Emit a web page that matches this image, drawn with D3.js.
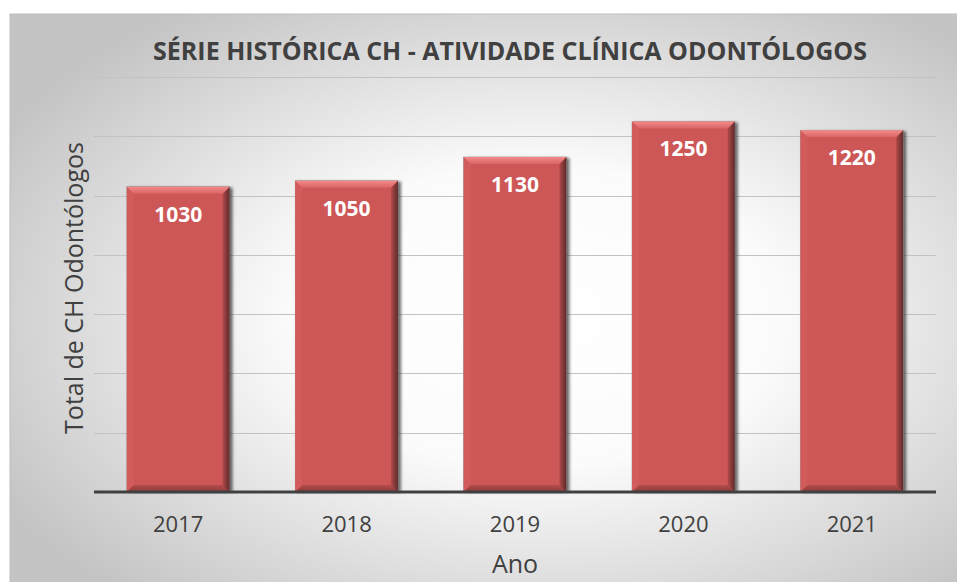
<!DOCTYPE html>
<html>
<head>
<meta charset="utf-8">
<script src="https://cdn.jsdelivr.net/npm/d3@7"></script>
<style>
  body { margin: 0; background: #fff; }
  svg { display: block; font-family: "Open Sans", sans-serif; }
</style>
</head>
<body>
<svg width="957" height="582"></svg>
<script>
// data
const years = ["2017", "2018", "2019", "2020", "2021"];
const totals = [1030, 1050, 1130, 1250, 1220];
const yTicks = [0, 200, 400, 600, 800, 1000, 1200, 1400];

const title = "SÉRIE HISTÓRICA CH - ATIVIDADE CLÍNICA ODONTÓLOGOS";
const xTitle = "Ano";
const yTitle = "Total de CH Odontólogos";

const svg = d3.select("svg");
const W = 957, H = 582;
const plot = { left: 94, right: 936, top: 77, bottom: 492 };

const defs = svg.append("defs");

// chart background: soft radial gradient
const bg = defs.append("radialGradient")
  .attr("id", "bg")
  .attr("cx", "55%").attr("cy", "52%").attr("r", "64%");
bg.append("stop").attr("offset", "0%").attr("stop-color", "#ffffff");
bg.append("stop").attr("offset", "40%").attr("stop-color", "#fbfbfb");
bg.append("stop").attr("offset", "100%").attr("stop-color", "#c4c4c4");

const rightBevel = defs.append("linearGradient").attr("id", "rb")
  .attr("x1", "0").attr("x2", "1").attr("y1", "0").attr("y2", "0");
rightBevel.append("stop").attr("offset", "0%").attr("stop-color", "#b14a4a");
rightBevel.append("stop").attr("offset", "100%").attr("stop-color", "#5e2a2a");

const topBevel = defs.append("linearGradient").attr("id", "tb")
  .attr("x1", "0").attr("x2", "0").attr("y1", "0").attr("y2", "1");
topBevel.append("stop").attr("offset", "0%").attr("stop-color", "#f38a8a");
topBevel.append("stop").attr("offset", "100%").attr("stop-color", "#da6464");

const botBevel = defs.append("linearGradient").attr("id", "bb")
  .attr("x1", "0").attr("x2", "0").attr("y1", "0").attr("y2", "1");
botBevel.append("stop").attr("offset", "0%").attr("stop-color", "#b64c4c");
botBevel.append("stop").attr("offset", "100%").attr("stop-color", "#8a3a3a");

defs.append("filter").attr("id", "shadow")
  .attr("x", "-10%").attr("y", "-10%").attr("width", "130%").attr("height", "130%")
  .append("feGaussianBlur").attr("stdDeviation", 1.6);

svg.append("rect")
  .attr("x", 10).attr("y", 14)
  .attr("width", W).attr("height", H)
  .attr("fill", "url(#bg)")
  .attr("stroke", "#bdbdbd")
  .attr("stroke-width", 1);

// scales
const x = d3.scaleBand()
  .domain(years)
  .range([plot.left, plot.right])
  .paddingInner(0.39)
  .paddingOuter(0.195);

const y = d3.scaleLinear()
  .domain([0, 1400])
  .range([plot.bottom, plot.top]);

// gridlines
svg.append("g")
  .selectAll("line")
  .data(yTicks.filter(d => d > 0))
  .join("line")
  .attr("x1", plot.left).attr("x2", plot.right)
  .attr("y1", d => Math.round(y(d)) + 0.5)
  .attr("y2", d => Math.round(y(d)) + 0.5)
  .attr("stroke", "#c2c2c2")
  .attr("stroke-width", 1.2);

// bars with bevel
const b = 7;
const bars = svg.append("g")
  .selectAll("g")
  .data(years.map((yr, i) => ({ year: yr, value: totals[i] })))
  .join("g");

bars.append("rect")
  .attr("x", d => x(d.year) + 2)
  .attr("y", d => y(d.value) + 1)
  .attr("width", x.bandwidth() + 1)
  .attr("height", d => y(0) - y(d.value) - 1)
  .attr("fill", "#2a2a2a")
  .attr("opacity", 0.7)
  .attr("filter", "url(#shadow)");

bars.append("rect")
  .attr("x", d => x(d.year))
  .attr("y", d => y(d.value))
  .attr("width", x.bandwidth())
  .attr("height", d => y(0) - y(d.value))
  .attr("fill", "#cd5656")
  .attr("stroke", "#9a9a9a")
  .attr("stroke-width", 0.6);

function bevel(d, side) {
  const x0 = x(d.year), x1 = x0 + x.bandwidth();
  const y0 = y(d.value), y1 = y(0);
  const p = {
    top: [[x0, y0], [x1, y0], [x1 - b, y0 + b], [x0 + b, y0 + b]],
    left: [[x0, y0], [x0 + b, y0 + b], [x0 + b, y1 - b], [x0, y1]],
    right: [[x1, y0], [x1, y1], [x1 - b, y1 - b], [x1 - b, y0 + b]],
    bottom: [[x0, y1], [x1, y1], [x1 - b, y1 - b], [x0 + b, y1 - b]]
  }[side];
  return "M" + p.map(q => q.join(",")).join("L") + "Z";
}

bars.append("path").attr("d", d => bevel(d, "left")).attr("fill", "#d25c5c");
bars.append("path").attr("d", d => bevel(d, "bottom")).attr("fill", "url(#bb)");
bars.append("path").attr("d", d => bevel(d, "right")).attr("fill", "url(#rb)");
bars.append("path").attr("d", d => bevel(d, "top")).attr("fill", "url(#tb)");

// value labels
bars.append("text")
  .attr("x", d => x(d.year) + x.bandwidth() / 2)
  .attr("y", d => y(d.value) + 35)
  .attr("text-anchor", "middle")
  .attr("fill", "#ffffff")
  .attr("font-size", 21)
  .attr("font-weight", 700)
  .text(d => d.value);

// x axis
const xAxis = svg.append("g")
  .attr("transform", `translate(0,${plot.bottom})`)
  .call(d3.axisBottom(x).tickSize(0).tickPadding(0));
xAxis.select(".domain").remove();
xAxis.selectAll("text")
  .attr("y", 40)
  .attr("dy", null)
  .attr("fill", "#404040")
  .attr("font-size", 22)
  .attr("font-family", "Open Sans, sans-serif");

svg.append("line")
  .attr("x1", plot.left).attr("x2", plot.right)
  .attr("y1", plot.bottom).attr("y2", plot.bottom)
  .attr("stroke", "#404040")
  .attr("stroke-width", 3);

// titles
svg.append("text")
  .attr("x", 510).attr("y", 60)
  .attr("text-anchor", "middle")
  .attr("fill", "#404040")
  .attr("font-size", 25)
  .attr("font-weight", 700)
  .text(title);

svg.append("text")
  .attr("x", (plot.left + plot.right) / 2).attr("y", 573)
  .attr("text-anchor", "middle")
  .attr("fill", "#404040")
  .attr("font-size", 25)
  .text(xTitle);

svg.append("text")
  .attr("transform", "translate(83,288) rotate(-90)")
  .attr("text-anchor", "middle")
  .attr("fill", "#404040")
  .attr("font-size", 25)
  .text(yTitle);
</script>
</body>
</html>
